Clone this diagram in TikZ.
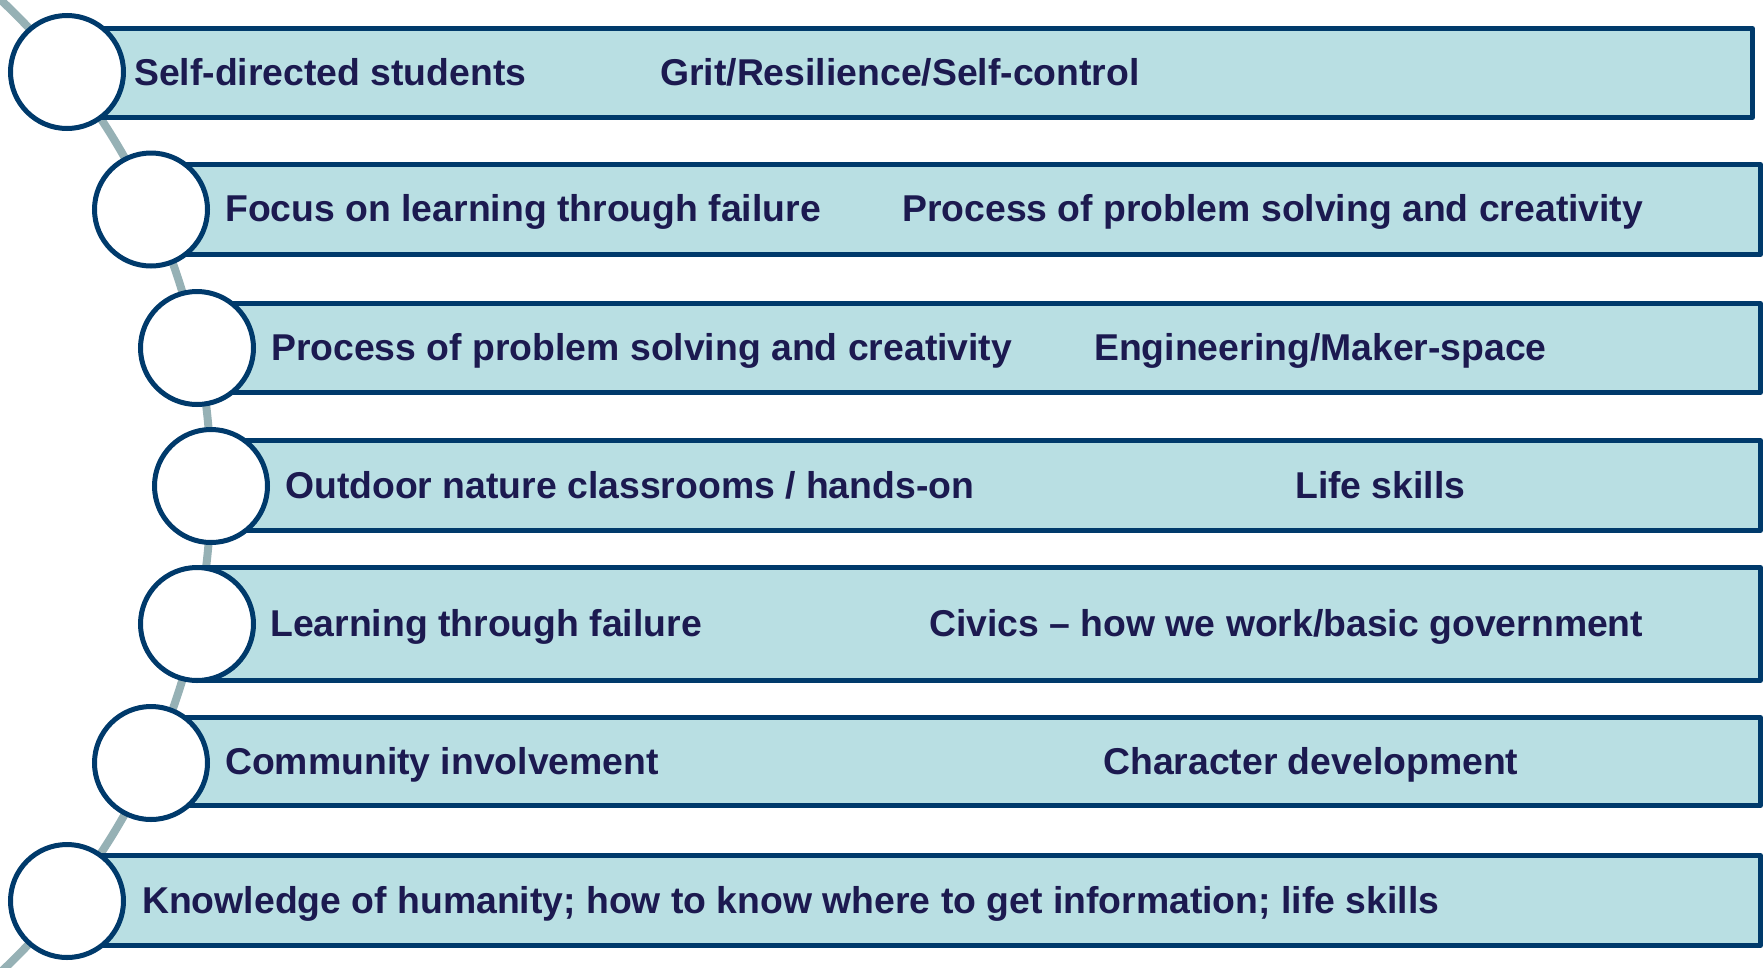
\documentclass[tikz,border=0pt]{standalone}
\usepackage{fontspec}
\setmainfont{Liberation Sans}
\definecolor{barfill}{HTML}{B9DFE3}
\definecolor{barline}{HTML}{003A6B}
\definecolor{txt}{HTML}{1C1A50}
\definecolor{arccol}{HTML}{96B1B5}
\begin{document}
\begin{tikzpicture}[x=1pt,y=-1pt,
  bar/.style={draw=barline,fill=barfill,line width=5pt,rectangle,anchor=west,inner sep=0pt,line join=round},
  dot/.style={draw=barline,fill=white,line width=5pt,circle,minimum size=113pt,inner sep=0pt},
  lbl/.style={text=txt,anchor=base west,inner sep=0pt,font=\fontsize{37.35}{44}\selectfont\bfseries}]
\useasboundingbox (0,0) rectangle (1764,967);
\begin{scope}
\clip (0,0) rectangle (1764,967);
\draw[arccol,line width=8pt] (-456,486) circle (667pt);
\end{scope}
% bars
\node[bar,minimum width=1683pt,minimum height=89pt] (b1) at (67,73) {};
\node[bar,minimum width=1607pt,minimum height=90pt] (b2) at (151,209.5) {};
\node[bar,minimum width=1561pt,minimum height=89pt] (b3) at (197,348) {};
\node[bar,minimum width=1547pt,minimum height=90pt] (b4) at (211,485.5) {};
\node[bar,minimum width=1561pt,minimum height=113pt] (b5) at (197,624) {};
\node[bar,minimum width=1607pt,minimum height=88pt] (b6) at (151,761.5) {};
\node[bar,minimum width=1691pt,minimum height=90pt] (b7) at (67,900.5) {};
% circles
\node[dot] (c1) at (67,72) {};
\node[dot] (c2) at (151,209.5) {};
\node[dot] (c3) at (197,348) {};
\node[dot] (c4) at (211,486) {};
\node[dot] (c5) at (197,624) {};
\node[dot] (c6) at (151,763) {};
\node[dot] (c7) at (67,901) {};
% labels
\node[lbl] (t1a) at (134,85) {Self-directed students};
\node[lbl] (t1b) at (660,85) {Grit/Resilience/Self-control};
\node[lbl] (t2a) at (225,221.5) {Focus on learning through failure};
\node[lbl] (t2b) at (902,221.5) {Process of problem solving and creativity};
\node[lbl] (t3a) at (271,360) {Process of problem solving and creativity};
\node[lbl] (t3b) at (1094,360) {Engineering/Maker-space};
\node[lbl] (t4a) at (285,498) {Outdoor nature classrooms / hands-on};
\node[lbl] (t4b) at (1295,498) {Life skills};
\node[lbl] (t5a) at (270,636) {Learning through failure};
\node[lbl] (t5b) at (929,636) {Civics – how we work/basic government};
\node[lbl] (t6a) at (225,774.5) {Community involvement};
\node[lbl] (t6b) at (1103,774.5) {Character development};
\node[lbl] (t7a) at (142,913) {Knowledge of humanity; how to know where to get information; life skills};
\end{tikzpicture}
\end{document}
